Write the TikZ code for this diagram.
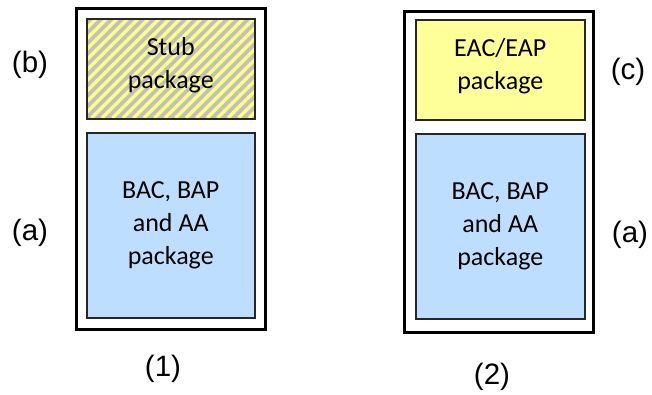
\documentclass[tikz,border=0pt]{standalone}
\usepackage{fontspec}
\setmainfont{Carlito}
\newfontfamily\arialf{Liberation Sans}
\usetikzlibrary{calc}
\definecolor{pkgblue}{HTML}{BDDEFF}
\definecolor{pkgyellow}{HTML}{FFFF99}
\definecolor{hatchgray}{HTML}{C0C0C0}
\definecolor{hatchyellow}{HTML}{FFFF80}
\begin{document}
\begin{tikzpicture}[x=1pt,y=-1pt,
  outerbox/.style={draw=black,line width=3pt},
  innerbox/.style={draw=black!85,line width=1.5pt},
  boxtext/.style={font=\fontsize{26}{33}\selectfont,align=center,text=black},
  lbl/.style={font=\arialf\fontsize{29.5}{33}\selectfont,text=black}]
\useasboundingbox (0,0) rectangle (652,394);
% box 1
\node[outerbox,minimum width=189pt,minimum height=321pt,anchor=north west,inner sep=0pt] (o1) at (74.5,6.5) {};
\begin{scope}
\clip (86,18) rectangle (254,118);
\fill[hatchgray] (86,18) rectangle (254,118);
\foreach \i in {0,...,30} {
  \draw[hatchyellow,line width=3.5pt] (86+10.5*\i-110,118) -- (86+10.5*\i,8);
}
\end{scope}
\node[innerbox,minimum width=168pt,minimum height=100pt,anchor=north west,inner sep=0pt] (s1) at (86,18) {};
\node[boxtext] (t1) at ($(s1.center)+(0,-4)$) {Stub\\package};
\node[innerbox,fill=pkgblue,minimum width=168pt,minimum height=185pt,anchor=north west,inner sep=0pt] (b1) at (86,132) {};
\node[boxtext] (tb1) at (b1.center) {BAC, BAP\\and AA\\package};
% box 2
\node[outerbox,minimum width=189pt,minimum height=321pt,anchor=north west,inner sep=0pt] (o2) at (403,9.5) {};
\node[innerbox,fill=pkgyellow,minimum width=169pt,minimum height=100pt,anchor=north west,inner sep=0pt] (y2) at (415,19) {};
\node[boxtext] (t2) at ($(y2.center)+(0,-4)$) {EAC/EAP\\package};
\node[innerbox,fill=pkgblue,minimum width=169pt,minimum height=185pt,anchor=north west,inner sep=0pt] (b2) at (415,133) {};
\node[boxtext] (tb2) at (b2.center) {BAC, BAP\\and AA\\package};
% labels
\node[lbl] (lb) at (30,65) {(b)};
\node[lbl] (la1) at (30,233) {(a)};
\node[lbl] (l1) at (163,369) {(1)};
\node[lbl] (lc) at (628,72) {(c)};
\node[lbl] (la2) at (630,235) {(a)};
\node[lbl] (l2) at (492,377) {(2)};
\end{tikzpicture}
\end{document}
